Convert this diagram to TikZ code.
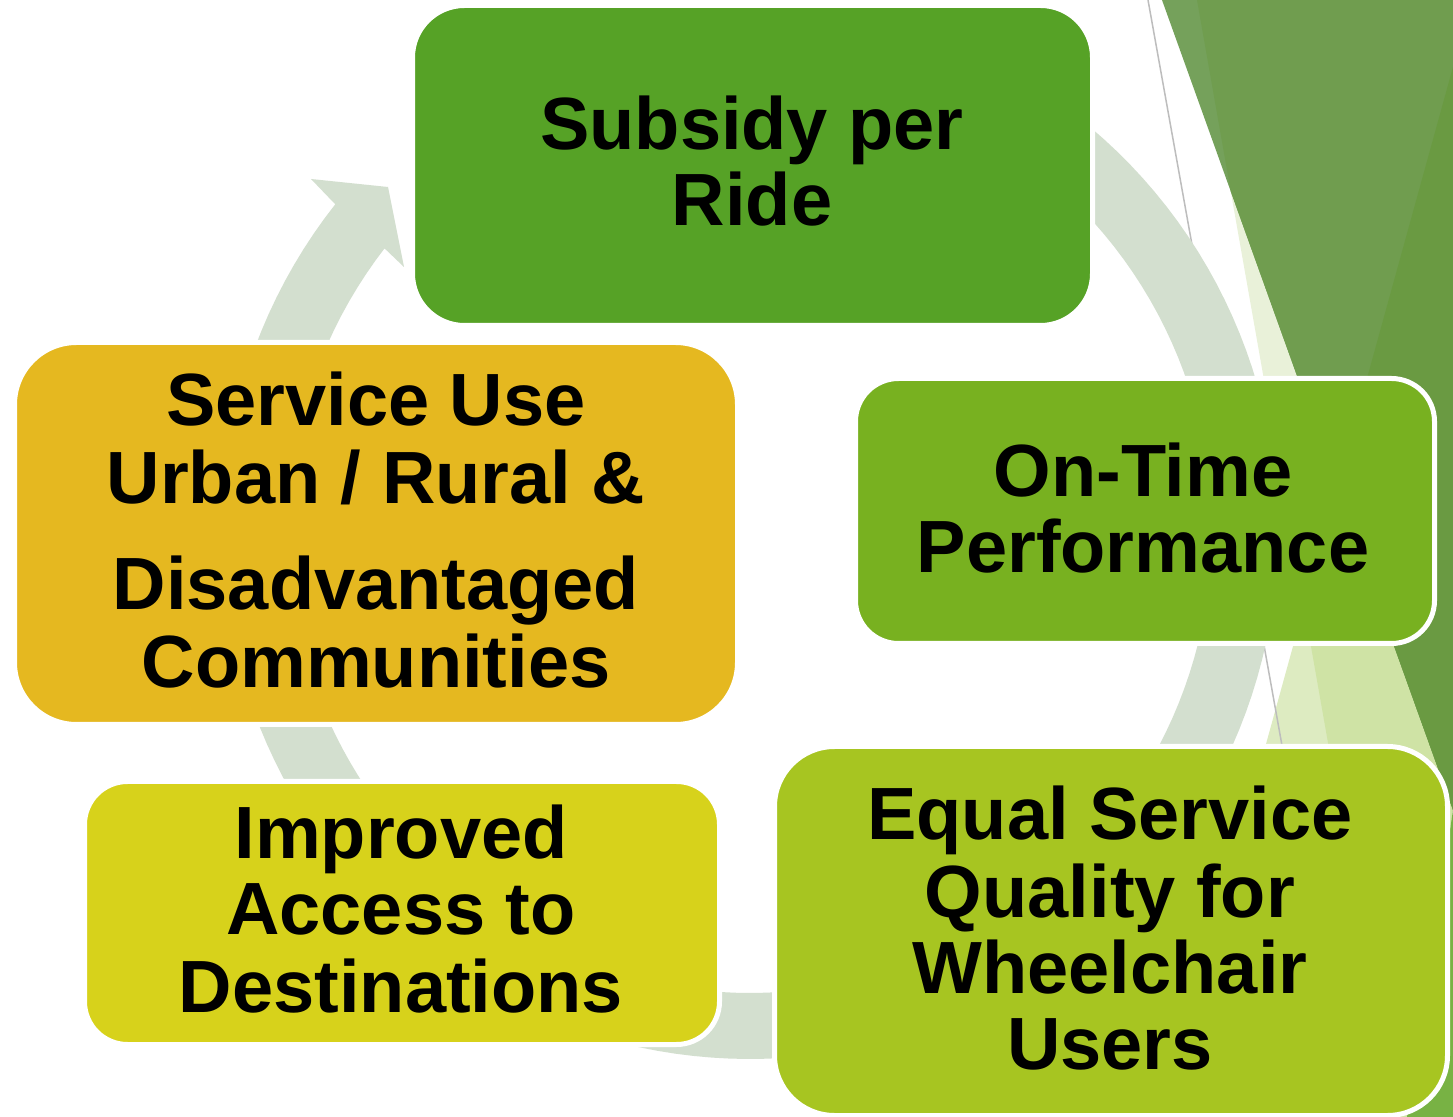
\documentclass[tikz,border=0pt]{standalone}
\usepackage{fontspec}
\setmainfont{Liberation Sans}
\definecolor{cOne}{HTML}{56A226}
\definecolor{cTwo}{HTML}{E5B820}
\definecolor{cThree}{HTML}{78B120}
\definecolor{cFour}{HTML}{A7C521}
\definecolor{cFive}{HTML}{D7D21B}
\definecolor{ringc}{HTML}{D3DFCF}
\definecolor{pOne}{HTML}{E9F1D9}
\definecolor{lTwo}{HTML}{DDEBC1}
\definecolor{lpOne}{HTML}{CFE3A5}
\definecolor{gThree}{HTML}{78B244}
\definecolor{dA}{HTML}{75A15B}
\definecolor{dB}{HTML}{709D4F}
\definecolor{dC}{HTML}{6A9A42}
\definecolor{greyline}{HTML}{BDBDBD}
\begin{document}
\begin{tikzpicture}[x=0.5pt,y=-0.5pt,
  box/.style={draw=white, line width=2.5pt, inner sep=0pt, outer sep=0pt},
  lbl/.style={anchor=base, inner sep=0pt, outer sep=0pt, text=black,
    font=\fontsize{37}{38.5}\selectfont\bfseries},
]
\useasboundingbox (0,0) rectangle (1453,1117);
\fill[white] (0,0) rectangle (1453,1117);
% background facets
\fill[pOne] (1197,0) -- (1453,0) -- (1453,1117) -- (1394,1117) -- cycle;
\fill[lTwo] (1453,67) -- (1163,1117) -- (1407,1117) -- (1453,810) -- cycle;
\begin{scope}
  \clip (1453,67) -- (1163,1117) -- (1407,1117) -- (1453,810) -- cycle;
  \fill[lpOne] (1197,0) -- (1453,0) -- (1453,1117) -- (1394,1117) -- cycle;
\end{scope}
\fill[gThree] (1453,810) -- (1453,1117) -- (1407,1117) -- cycle;
\fill[dA] (1162,0) -- (1453,0) -- (1453,810) -- cycle;
\begin{scope}
  \clip (1162,0) -- (1453,0) -- (1453,810) -- cycle;
  \fill[dB] (1197,0) -- (1453,0) -- (1453,1117) -- (1394,1117) -- cycle;
  \fill[dC] (1453,67) -- (1163,1117) -- (1407,1117) -- (1453,810) -- cycle;
\end{scope}
\draw[greyline, line width=0.75pt] (1148,0) -- (1290,790);
% circular arrow
\fill[ringc] (311,179) -- (388,187) -- (404,267) -- (381,245)
  -- plot[domain=217.8:-100, samples=160] ({750+462*cos(\x)},{531+462*sin(\x)})
  -- plot[domain=-100:218.25, samples=160] ({750+528*cos(\x)},{531+528*sin(\x)})
  -- (334,203) -- cycle;
% boxes
\node[box, fill=cOne, minimum width=340pt, minimum height=160pt, rounded corners=26pt] (b1) at (752.5,165.5) {};
\node[box, fill=cTwo, minimum width=361.5pt, minimum height=191pt, rounded corners=31pt] (b2) at (376,533.5) {};
\node[box, fill=cThree, minimum width=289.5pt, minimum height=132.5pt, rounded corners=21.5pt] (b3) at (1145,511) {};
\node[box, fill=cFour, minimum width=336.5pt, minimum height=184.5pt, rounded corners=30pt] (b4) at (1111,931) {};
\node[box, fill=cFive, minimum width=317.5pt, minimum height=131.5pt, rounded corners=21.5pt] (b5) at (402,913) {};
% labels
\node[lbl] (t1a) at (752,150) {Subsidy per};
\node[lbl] (t1b) at (752,226) {Ride};
\node[lbl] (t2a) at (376,426) {Service Use};
\node[lbl] (t2b) at (376,504) {Urban / Rural \&};
\node[lbl] (t2c) at (376,610) {Disadvantaged};
\node[lbl] (t2d) at (376,688) {Communities};
\node[lbl] (t3a) at (1143,497) {On-Time};
\node[lbl] (t3b) at (1143,573) {Performance};
\node[lbl] (t4a) at (1110,840) {Equal Service};
\node[lbl] (t4b) at (1110,917) {Quality for};
\node[lbl] (t4c) at (1110,993) {Wheelchair};
\node[lbl] (t4d) at (1110,1069) {Users};
\node[lbl] (t5a) at (401,858) {Improved};
\node[lbl] (t5b) at (401,935) {Access to};
\node[lbl] (t5c) at (401,1012) {Destinations};
\end{tikzpicture}
\end{document}
